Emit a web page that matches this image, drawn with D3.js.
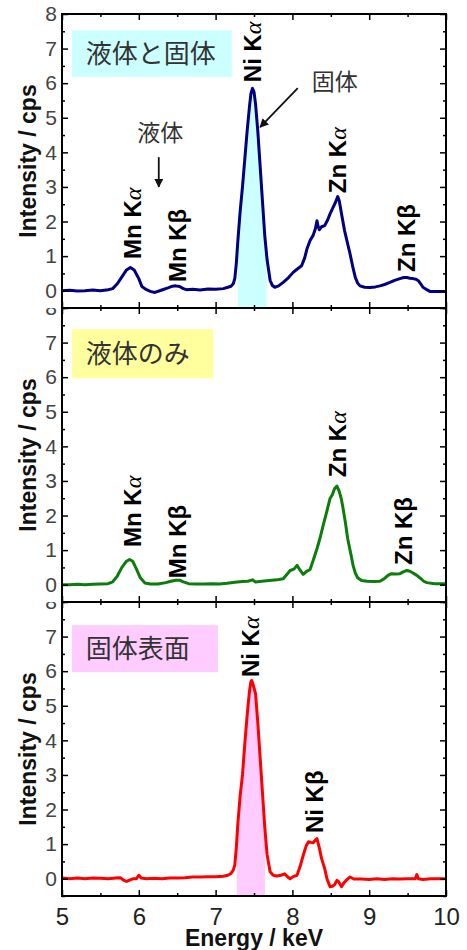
<!DOCTYPE html>
<html><head><meta charset="utf-8">
<script src="https://cdn.jsdelivr.net/npm/d3@7"></script>
<style>body{margin:0;background:#fff}svg{display:block}</style>
</head><body><svg id="c" width="467" height="950"></svg>
<script>
// ---------- DATA ----------
const xTicks = [5, 6, 7, 8, 9, 10];
const yTicks = [0, 1, 2, 3, 4, 5, 6, 7, 8];

const blueEnergy = [5.0,5.1,5.2,5.3,5.4,5.5,5.6,5.66,5.72,5.78,5.84,5.89,5.94,6.0,6.04,6.1,6.15,6.21,6.3,6.38,6.44,6.48,6.53,6.58,6.62,6.7,6.8,6.9,7.0,7.1,7.16,7.2,7.23,7.25,7.27,7.29,7.32,7.35,7.38,7.41,7.44,7.46,7.48,7.50,7.52,7.55,7.58,7.61,7.64,7.67,7.71,7.74,7.77,7.82,7.88,7.95,8.01,8.06,8.12,8.16,8.19,8.23,8.27,8.30,8.32,8.33,8.35,8.38,8.42,8.46,8.49,8.53,8.56,8.59,8.61,8.64,8.68,8.72,8.75,8.79,8.82,8.85,8.88,8.94,9.01,9.08,9.14,9.2,9.27,9.33,9.4,9.45,9.49,9.53,9.57,9.61,9.64,9.67,9.7,9.75,9.79,9.85,9.9,9.95,10.0];
const blueIntensity = [0.0,0.01,-0.01,0.0,0.02,0.0,0.03,0.06,0.2,0.4,0.6,0.67,0.6,0.35,0.12,0.03,-0.02,-0.05,0.02,0.08,0.13,0.14,0.12,0.06,0.03,0.04,0.02,0.05,0.04,0.06,0.1,0.13,0.2,0.35,0.8,1.45,2.3,3.0,3.8,4.6,5.3,5.7,5.85,5.75,5.4,4.6,3.6,2.6,1.6,0.9,0.3,0.15,0.1,0.14,0.24,0.38,0.53,0.62,0.72,0.95,1.21,1.45,1.6,1.8,2.02,1.9,1.76,1.85,1.88,2.05,2.22,2.41,2.55,2.72,2.6,2.22,1.73,1.35,1.07,0.65,0.38,0.22,0.14,0.1,0.09,0.11,0.14,0.18,0.24,0.3,0.35,0.38,0.38,0.36,0.35,0.33,0.29,0.2,0.1,0.03,-0.02,-0.02,-0.02,-0.02,-0.02];

const greenEnergy = [5.0,5.1,5.2,5.3,5.4,5.5,5.6,5.66,5.72,5.78,5.84,5.88,5.92,5.97,6.02,6.08,6.15,6.25,6.35,6.42,6.48,6.53,6.58,6.65,6.75,6.85,6.95,7.05,7.15,7.25,7.35,7.42,7.48,7.52,7.6,7.7,7.8,7.88,7.93,7.97,8.02,8.06,8.1,8.14,8.18,8.23,8.27,8.32,8.36,8.4,8.44,8.49,8.52,8.55,8.58,8.61,8.64,8.66,8.69,8.72,8.76,8.79,8.82,8.85,8.9,8.97,9.05,9.14,9.2,9.25,9.29,9.35,9.4,9.45,9.49,9.53,9.57,9.62,9.67,9.71,9.75,9.85,9.95,10.0];
const greenIntensity = [0.0,0.0,0.01,0.0,0.01,0.02,0.03,0.08,0.25,0.5,0.68,0.73,0.68,0.45,0.2,0.05,0.02,0.02,0.06,0.1,0.13,0.13,0.08,0.03,0.02,0.02,0.03,0.02,0.04,0.07,0.09,0.1,0.14,0.08,0.1,0.12,0.14,0.17,0.3,0.41,0.45,0.56,0.42,0.3,0.38,0.44,0.7,1.04,1.35,1.71,2.05,2.49,2.6,2.78,2.85,2.7,2.45,2.2,1.8,1.33,0.9,0.56,0.33,0.2,0.12,0.1,0.09,0.1,0.18,0.28,0.32,0.31,0.32,0.38,0.41,0.39,0.34,0.27,0.18,0.1,0.06,0.03,0.03,0.03];

const redEnergy = [5.0,5.1,5.2,5.3,5.4,5.5,5.6,5.7,5.76,5.8,5.84,5.88,5.93,5.97,6.0,6.03,6.1,6.2,6.3,6.4,6.5,6.6,6.7,6.8,6.9,7.0,7.1,7.16,7.2,7.23,7.25,7.27,7.29,7.32,7.35,7.38,7.41,7.44,7.46,7.47,7.49,7.52,7.55,7.58,7.61,7.64,7.67,7.71,7.75,7.8,7.85,7.9,7.94,7.97,8.01,8.06,8.1,8.14,8.18,8.21,8.24,8.27,8.3,8.32,8.35,8.38,8.42,8.45,8.49,8.52,8.55,8.58,8.6,8.64,8.67,8.7,8.75,8.8,8.9,9.0,9.1,9.2,9.3,9.4,9.5,9.6,9.62,9.64,9.7,9.8,9.9,10.0];
const redIntensity = [0.02,0.0,0.02,0.0,0.02,0.01,0.0,0.02,0.03,-0.04,-0.08,-0.04,0.0,0.0,0.1,0.02,0.0,0.01,0.0,0.02,0.02,0.03,0.05,0.05,0.06,0.06,0.07,0.1,0.15,0.25,0.4,0.9,1.6,2.4,3.0,3.9,4.7,5.4,5.7,5.73,5.6,5.35,4.5,3.5,2.5,1.5,0.7,0.2,0.1,0.08,0.1,0.14,0.05,0.0,0.06,0.1,0.35,0.67,0.95,1.07,1.05,1.04,1.12,1.16,0.9,0.58,0.3,0.0,-0.23,-0.22,-0.17,-0.05,-0.08,-0.23,-0.12,-0.05,0.05,-0.01,-0.01,-0.02,0.0,-0.02,0.0,-0.01,0.0,0.0,0.12,0.0,-0.02,0.0,0.0,0.0];

const panelTitles = ["液体と固体", "液体のみ", "固体表面"];
const blueLabels = ["Mn Kα","Mn Kβ","Ni Kα","Zn Kα","Zn Kβ"];
const blueLabelE = [5.91, 6.50, 7.48, 8.59, 9.49];
const blueLabelI = [0.92, 0.25, 6.03, 2.82, 0.54];
const greenLabels = ["Mn Kα","Mn Kβ","Zn Kα","Zn Kβ"];
const greenLabelE = [5.91, 6.50, 8.58, 9.44];
const greenLabelI = [1.09, 0.19, 3.11, 0.57];
const redLabels = ["Ni Kα","Ni Kβ"];
const redLabelE = [7.45, 8.28];
const redLabelI = [5.83, 1.32];
const blueFillRange = [7.288, 7.665];
const redFillRange = [7.275, 7.643];

// ---------- LAYOUT ----------
const svg = d3.select("#c");
const L = 62, R = 446, PH = 294;
const panelTops = [14, 308, 602];
const x = d3.scaleLinear().domain([5, 10]).range([L, R]);
const SANS = "'Liberation Sans', Arial, sans-serif";
const CJK = "'Noto Sans CJK JP', sans-serif";

const defs = svg.append("defs");
defs.append("marker").attr("id","ah").attr("viewBox","0 0 10 10")
  .attr("refX",9).attr("refY",5).attr("markerWidth",7).attr("markerHeight",7)
  .attr("orient","auto-start-reverse").attr("markerUnits","userSpaceOnUse")
  .append("path").attr("d","M0,0 L10,5 L0,10 z").attr("fill","#111");
d3.select("#ah").attr("markerWidth",9).attr("markerHeight",9);

const panels = [
  {e: blueEnergy, v: blueIntensity, color: "#000080", fill: "#ccffff", fillRange: blueFillRange,
   box: "#ccffff", boxE: [5.13, 7.21], boxI: [7.53, 6.18],
   labels: blueLabels, lE: blueLabelE, lI: blueLabelI},
  {e: greenEnergy, v: greenIntensity, color: "#0a7d0a", fill: null, fillRange: null,
   box: "#ffff9e", boxE: [5.13, 6.97], boxI: [7.39, 5.97],
   labels: greenLabels, lE: greenLabelE, lI: greenLabelI},
  {e: redEnergy, v: redIntensity, color: "#ff0000", fill: "#ffccff", fillRange: redFillRange,
   box: "#ffccff", boxE: [5.13, 7.03], boxI: [7.33, 5.97],
   labels: redLabels, lE: redLabelE, lI: redLabelI}
];

// draw bottom panel first so upper panels' backgrounds clip the "8" labels
for (let p = 2; p >= 0; p--) {
  const P = panels[p];
  const top = panelTops[p], bot = top + PH;
  const y = d3.scaleLinear().domain([-0.5, 8]).range([bot, top]);
  const g = svg.append("g");
  g.append("rect").attr("x", 0).attr("y", top).attr("width", 467).attr("height", PH).attr("fill", "#fff");

  // title box
  g.append("rect").attr("x", x(P.boxE[0])).attr("y", y(P.boxI[0]))
    .attr("width", x(P.boxE[1]) - x(P.boxE[0])).attr("height", y(P.boxI[1]) - y(P.boxI[0]))
    .attr("fill", P.box);
  g.append("text").attr("x", x(5.31)).attr("y", (y(P.boxI[0]) + y(P.boxI[1])) / 2)
    .attr("dy", "0.36em").attr("font-family", CJK).attr("font-size", 26)
    .attr("fill", "#333").text(panelTitles[p]);

  const data = P.e.map((e, i) => [e, P.v[i]]);
  if (P.fill) {
    const cid = "clip" + p;
    defs.append("clipPath").attr("id", cid).append("rect")
      .attr("x", x(P.fillRange[0])).attr("y", top)
      .attr("width", x(P.fillRange[1]) - x(P.fillRange[0])).attr("height", PH);
    g.append("path").datum(data).attr("clip-path", `url(#${cid})`)
      .attr("fill", P.fill)
      .attr("d", d3.area().x(d => x(d[0])).y0(y(-0.5)).y1(d => y(d[1])));
  }
  g.append("path").datum(data).attr("fill", "none").attr("stroke", P.color)
    .attr("stroke-width", 3).attr("stroke-linejoin", "round")
    .attr("d", d3.line().x(d => x(d[0])).y(d => y(d[1])));

  // peak labels
  P.labels.forEach((t, i) => {
    const tx = g.append("text")
      .attr("transform", `translate(${x(P.lE[i])},${y(P.lI[i])}) rotate(-90)`)
      .attr("dy", "0.36em").attr("font-family", SANS).attr("font-size", 24)
      .attr("font-weight", "bold").attr("fill", "#000");
    if (t.endsWith("α")) {
      tx.append("tspan").text(t.slice(0, -1));
      tx.append("tspan").attr("font-family", "'Liberation Serif', serif")
        .attr("font-style", "italic").attr("font-weight", "normal").text("α");
    } else {
      tx.text(t);
    }
  });

  // axes (inward ticks)
  const yMajor = yTicks, yMinor = d3.range(-0.5, 8, 1);
  const xMajor = xTicks, xMinor = d3.range(5.5, 10, 1);
  g.append("g").attr("transform", `translate(${L},0)`)
    .call(d3.axisLeft(y).tickValues(yMajor).tickSize(-6).tickFormat(""));
  g.append("g").attr("transform", `translate(${L},0)`)
    .call(d3.axisLeft(y).tickValues(yMinor).tickSize(-3).tickFormat(""));
  g.append("g").attr("transform", `translate(${R},0)`)
    .call(d3.axisRight(y).tickValues(yMajor).tickSize(-6).tickFormat(""));
  g.append("g").attr("transform", `translate(${R},0)`)
    .call(d3.axisRight(y).tickValues(yMinor).tickSize(-3).tickFormat(""));
  g.append("g").attr("transform", `translate(0,${bot})`)
    .call(d3.axisBottom(x).tickValues(xMajor).tickSize(-6).tickFormat(""));
  g.append("g").attr("transform", `translate(0,${bot})`)
    .call(d3.axisBottom(x).tickValues(xMinor).tickSize(-3).tickFormat(""));
  g.append("g").attr("transform", `translate(0,${top})`)
    .call(d3.axisTop(x).tickValues(xMajor).tickSize(-6).tickFormat(""));
  g.append("g").attr("transform", `translate(0,${top})`)
    .call(d3.axisTop(x).tickValues(xMinor).tickSize(-3).tickFormat(""));
  g.selectAll(".domain").remove();
  g.selectAll(".tick line").attr("stroke", "#000").attr("stroke-width", 1.5);

  // y tick labels
  const yl = g.append("g").attr("transform", `translate(${L},0)`)
    .call(d3.axisLeft(y).tickValues(yMajor).tickSize(0).tickPadding(5).tickFormat(d3.format("d")));
  yl.select(".domain").remove();
  yl.selectAll("text").attr("font-family", SANS).attr("font-size", 21).attr("fill", "#444");

  // frame
  g.append("rect").attr("x", L).attr("y", top).attr("width", R - L).attr("height", PH)
    .attr("fill", "none").attr("stroke", "#000").attr("stroke-width", 2);

  // y title
  g.append("text").attr("transform", `translate(28,${(top + bot) / 2}) rotate(-90)`)
    .attr("text-anchor", "middle").attr("dy", "0.36em").attr("font-family", SANS)
    .attr("font-size", 23).attr("font-weight", "bold").attr("fill", "#111").text("Intensity / cps");

  if (p === 2) {
    const xl = g.append("g").attr("transform", `translate(0,${bot})`)
      .call(d3.axisBottom(x).tickValues(xMajor).tickSize(0).tickPadding(12).tickFormat(d3.format("d")));
    xl.select(".domain").remove();
    xl.selectAll("text").attr("font-family", SANS).attr("font-size", 24).attr("fill", "#222");
    g.append("text").attr("x", (L + R) / 2).attr("y", 946).attr("text-anchor", "middle")
      .attr("font-family", SANS).attr("font-size", 23).attr("font-weight", "bold")
      .attr("fill", "#111").text("Energy / keV");
  }
  if (p === 0) {
    g.append("text").attr("x", x(6.28)).attr("y", y(4.56)).attr("dy", "0.36em")
      .attr("text-anchor", "middle").attr("font-family", CJK).attr("font-size", 23)
      .attr("fill", "#333").text("液体");
    g.append("line").attr("x1", x(6.26)).attr("y1", y(3.86)).attr("x2", x(6.26)).attr("y2", y(3.0))
      .attr("stroke", "#111").attr("stroke-width", 1.8).attr("marker-end", "url(#ah)");
    g.append("text").attr("x", x(8.55)).attr("y", y(6.03)).attr("dy", "0.36em")
      .attr("text-anchor", "middle").attr("font-family", CJK).attr("font-size", 23)
      .attr("fill", "#333").text("固体");
    g.append("line").attr("x1", x(8.07)).attr("y1", y(5.86)).attr("x2", x(7.58)).attr("y2", y(4.73))
      .attr("stroke", "#111").attr("stroke-width", 1.8).attr("marker-end", "url(#ah)");
  }
}
</script></body></html>
